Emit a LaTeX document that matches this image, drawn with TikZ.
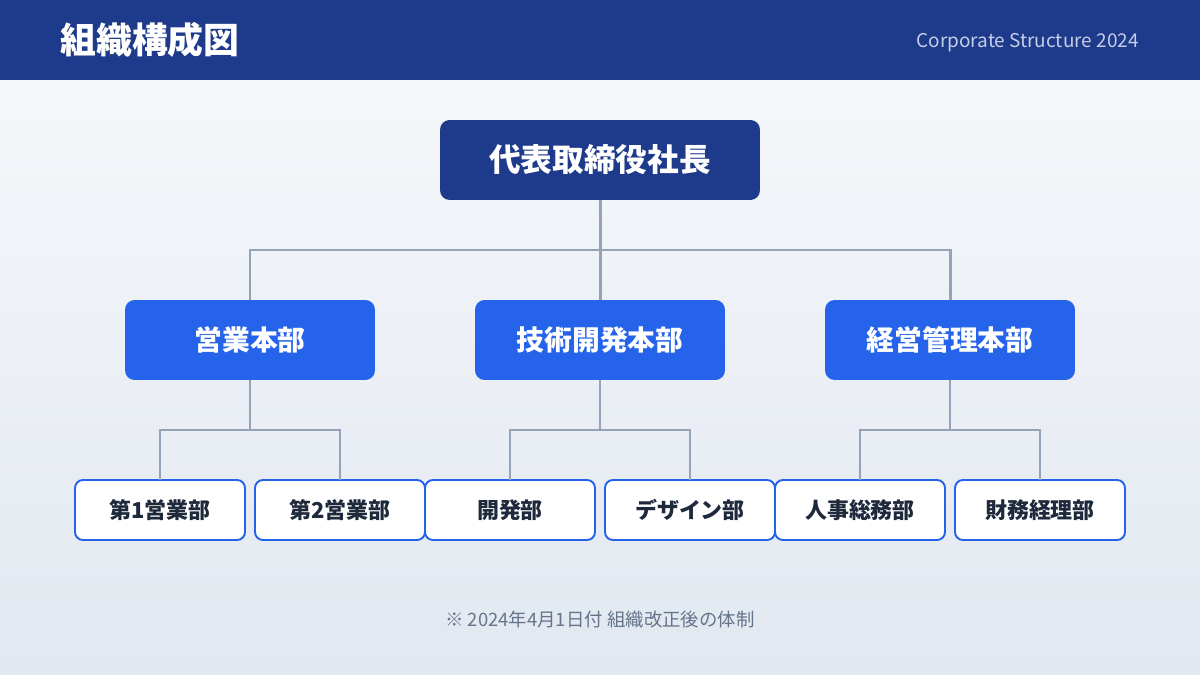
\documentclass[tikz,border=0pt]{standalone}
\usepackage{fontspec}
\setmainfont{Noto Sans CJK JP}
\usepackage{tikz}
\usetikzlibrary{calc}

\definecolor{navy}{HTML}{1E3A8A}
\definecolor{royal}{HTML}{2563EB}
\definecolor{wire}{HTML}{94A3B8}
\definecolor{ink}{HTML}{1E293B}
\definecolor{note}{HTML}{64748B}
\definecolor{subtitle}{HTML}{C5CDE8}
\definecolor{bgtop}{HTML}{F5F7FA}
\definecolor{bgbottom}{HTML}{E2E8F0}

\begin{document}
\begin{tikzpicture}[
  x=0.02cm, y=-0.02cm,
  ceobox/.style={rectangle, rounded corners=5.5pt, fill=navy, minimum width=6.4cm,
                 minimum height=1.6cm, inner sep=0pt, outer sep=0pt,
                 text=white, font=\fontsize{18}{20}\selectfont\bfseries},
  divbox/.style={rectangle, rounded corners=5.5pt, fill=royal, minimum width=5cm,
                 minimum height=1.6cm, inner sep=0pt, outer sep=0pt,
                 text=white, font=\fontsize{15.8}{18}\selectfont\bfseries},
  deptbox/.style={rectangle, rounded corners=4.5pt, draw=royal, line width=1.1pt,
                  fill=white, minimum width=3.4cm, minimum height=1.2cm,
                  inner sep=0pt, outer sep=0pt, text=ink,
                  font=\fontsize{12.5}{14}\selectfont\bfseries},
  trunk/.style={draw=wire, line width=1.7pt},
  twig/.style={draw=wire, line width=1.1pt}
]
\useasboundingbox (0,0) rectangle (1200,675);

% Background and header band
\shade[top color=bgtop, bottom color=bgbottom] (0,80) rectangle (1200,675);
\fill[navy] (0,0) rectangle (1200,80);
\node[anchor=west, inner sep=0pt, text=white, font=\fontsize{20.4}{22}\selectfont\bfseries]
  at (60,40) (title) {組織構成図};
\node[anchor=east, inner sep=0pt, text=subtitle, font=\fontsize{10.8}{12}\selectfont]
  at (1139,43) (subtitle) {Corporate Structure 2024};

% Top
\node[ceobox] at (600,160) (ceo) {代表取締役社長};

% Divisions (y=340)
\node[divbox] at (250,340) (sales) {営業本部};
\node[divbox] at (600,340) (tech)  {技術開発本部};
\node[divbox] at (950,340) (admin) {経営管理本部};

% Departments (y=510)
\node[deptbox] at (160,510)  (sales1) {第1営業部};
\node[deptbox] at (340,510)  (sales2) {第2営業部};
\node[deptbox] at (510,510)  (dev)    {開発部};
\node[deptbox] at (690,510)  (design) {デザイン部};
\node[deptbox] at (860,510)  (hr)     {人事総務部};
\node[deptbox] at (1040,510) (acct)   {財務経理部};

% Connectors, top level
\coordinate (hub) at (600,250);
\draw[trunk] (ceo.south) -- (tech.north);
\draw[trunk] (hub) -| (sales.north);
\draw[trunk] (hub) -| (admin.north);

% Connectors, departments
\draw[twig] (sales.south) -- ++(0,50) coordinate (salesfork);
\draw[twig] (salesfork) -| (sales1.north);
\draw[twig] (salesfork) -| (sales2.north);
\draw[twig] (tech.south) -- ++(0,50) coordinate (techfork);
\draw[twig] (techfork) -| (dev.north);
\draw[twig] (techfork) -| (design.north);
\draw[twig] (admin.south) -- ++(0,50) coordinate (adminfork);
\draw[twig] (adminfork) -| (hr.north);
\draw[twig] (adminfork) -| (acct.north);

% Footnote
\node[text=note, font=\fontsize{10.5}{12}\selectfont] at (600,620) (footnote)
  {※ 2024年4月1日付 組織改正後の体制};
\end{tikzpicture}
\end{document}
